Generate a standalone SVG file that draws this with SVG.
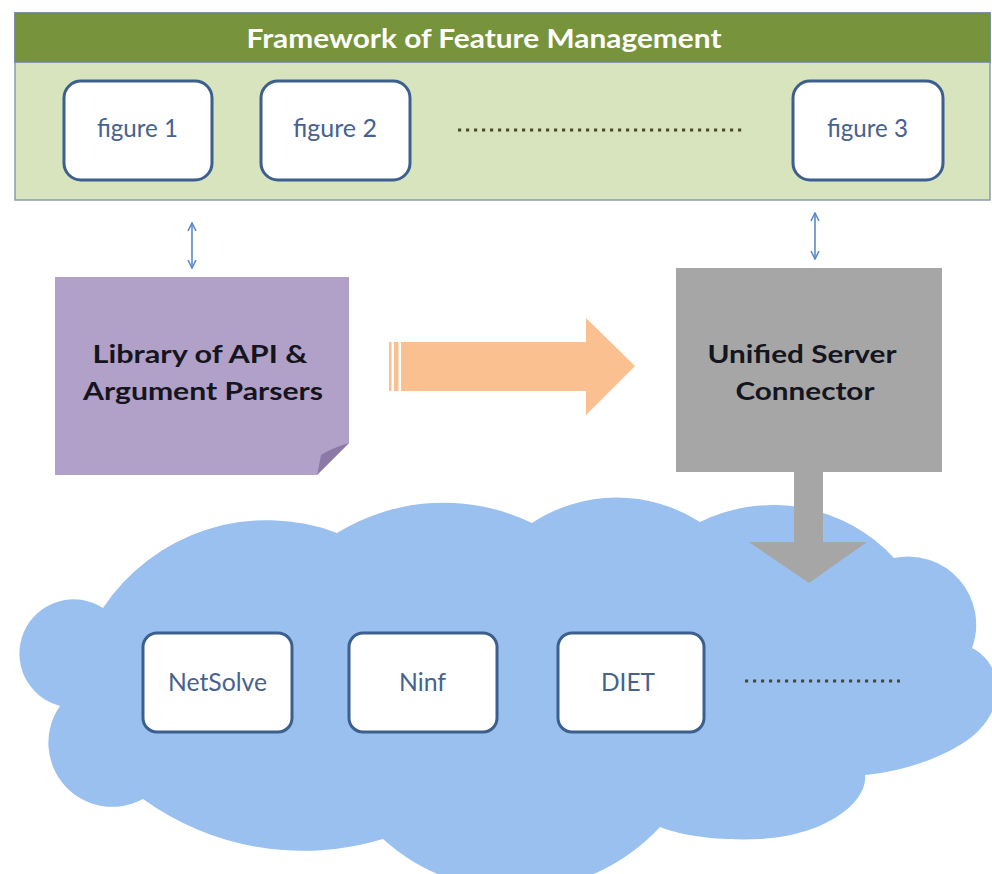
<svg xmlns="http://www.w3.org/2000/svg" width="992" height="874" viewBox="0 0 992 874">
  <defs>
    <style>
      .box { fill: #ffffff; stroke: #3d5f8e; stroke-width: 3; }
      .boxlabel { font-family: Lato, "Open Sans", "Liberation Sans", sans-serif; font-size: 25px; fill: #46628f; text-anchor: middle; }
      .title { font-family: Lato, "Open Sans", "Liberation Sans", sans-serif; font-weight: bold; font-size: 26px; fill: #ffffff; text-anchor: middle; }
      .strong { font-family: Lato, "Open Sans", "Liberation Sans", sans-serif; font-weight: bold; font-size: 25px; fill: #151520; text-anchor: middle; }
      .dots { stroke: #4b4a30; stroke-width: 3.2; stroke-dasharray: 3.2 4.8; fill: none; }
      .link { stroke: #5b8ac8; stroke-width: 1.6; fill: none; marker-start: url(#tip); marker-end: url(#tip); }
    </style>
    <marker id="tip" viewBox="0 0 10 10" refX="9" refY="5" markerWidth="10" markerHeight="10" markerUnits="userSpaceOnUse" orient="auto-start-reverse">
      <path d="M1 1 L9 5 L1 9" fill="none" stroke="#5b8ac8" stroke-width="1.6"/>
    </marker>
  </defs>

  <rect width="992" height="874" fill="#ffffff"/>

  <!-- Feature management framework -->
  <g id="framework">
    <rect x="15" y="13" width="975" height="187" fill="#d7e4bd" stroke="#8c9aab" stroke-width="1.5"/>
    <rect x="15" y="13" width="975" height="49" fill="#77933c" stroke="#6f83a0" stroke-width="1.5"/>
    <text class="title" x="484" y="48" textLength="475" lengthAdjust="spacingAndGlyphs">Framework of Feature Management</text>
    <line class="dots" x1="458" y1="130" x2="744" y2="130"/>
  </g>
  <g id="figure1">
    <rect class="box" x="64" y="81" width="148" height="99" rx="17"/>
    <text class="boxlabel" x="137.5" y="137" textLength="81" lengthAdjust="spacingAndGlyphs">figure 1</text>
  </g>
  <g id="figure2">
    <rect class="box" x="261" y="81" width="149" height="99" rx="17"/>
    <text class="boxlabel" x="335" y="137" textLength="84" lengthAdjust="spacingAndGlyphs">figure 2</text>
  </g>
  <g id="figure3">
    <rect class="box" x="793" y="81" width="150" height="99" rx="17"/>
    <text class="boxlabel" x="867.5" y="137" textLength="81" lengthAdjust="spacingAndGlyphs">figure 3</text>
  </g>

  <!-- Library note with folded corner -->
  <g id="library">
    <path d="M55 277 H349 V443 L317 475 H55 Z" fill="#b1a0c7"/>
    <path d="M349 443 Q332 448 321 455 Q319 466 317 475 Z" fill="#8c7aa6"/>
    <text class="strong" x="200" y="363" textLength="215" lengthAdjust="spacingAndGlyphs">Library of API &amp;</text>
    <text class="strong" x="203" y="400" textLength="240" lengthAdjust="spacingAndGlyphs">Argument Parsers</text>
  </g>

  <!-- Unified server connector -->
  <g id="connector">
    <rect x="676" y="268" width="266" height="204" fill="#a6a6a6"/>
    <text class="strong" x="802" y="363" textLength="189" lengthAdjust="spacingAndGlyphs">Unified Server</text>
    <text class="strong" x="805" y="400" textLength="139" lengthAdjust="spacingAndGlyphs">Connector</text>
  </g>

  <!-- Grid middleware cloud -->
  <g id="cloud">
    <path d="M60 706 A54.2 54.2 0 1 1 103 608 A197 197 0 0 1 337 533 A203 203 0 0 1 532 523 A154 154 0 0 1 700 522 A165 165 0 0 1 894 558 A68 68 0 0 1 972 648 C1005 665 1010 715 960 745 C930 763 895 772 865 775 C868 800 830 835 760 839 C715 841 680 835 660 827 A197 197 0 0 1 383 839 A274 274 0 0 1 143 799 A64 64 0 0 1 60 706 Z" fill="#99c0ef"/>
    <line class="dots" x1="745" y1="681" x2="900" y2="681"/>
  </g>
  <g id="netsolve">
    <rect class="box" x="143" y="633" width="149" height="99" rx="14"/>
    <text class="boxlabel" x="217.5" y="691" textLength="99" lengthAdjust="spacingAndGlyphs">NetSolve</text>
  </g>
  <g id="ninf">
    <rect class="box" x="349" y="633" width="148" height="99" rx="14"/>
    <text class="boxlabel" x="422.5" y="691" textLength="47" lengthAdjust="spacingAndGlyphs">Ninf</text>
  </g>
  <g id="diet">
    <rect class="box" x="558" y="633" width="146" height="99" rx="14"/>
    <text class="boxlabel" x="628" y="691" textLength="54" lengthAdjust="spacingAndGlyphs">DIET</text>
  </g>

  <!-- Connectors -->
  <g id="connectors">
    <line class="link" x1="192" y1="223" x2="192" y2="268"/>
    <line class="link" x1="815" y1="213" x2="815" y2="259"/>
    <g fill="#fac090">
      <rect x="389" y="342" width="2.5" height="49"/>
      <rect x="394" y="342" width="4.5" height="49"/>
      <path d="M401 342 H586 V318 L635 366 L586 415 V391 H401 Z"/>
    </g>
    <path d="M794 472 H823 V542 H867 L809 583 L749 542 H794 Z" fill="#a6a6a6"/>
  </g>
</svg>
